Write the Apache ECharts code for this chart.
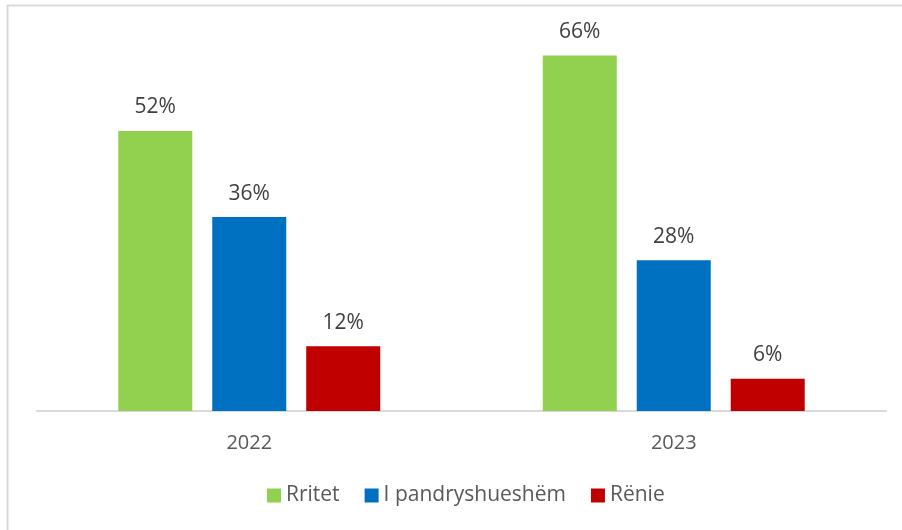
<!DOCTYPE html>
<html>
<head>
<meta charset="utf-8">
<script src="https://cdn.jsdelivr.net/npm/echarts@6/dist/echarts.min.js"></script>
<style>html,body{margin:0;padding:0;background:#fff;}#c{width:902px;height:530px;}</style>
</head>
<body>
<div id="c"></div>
<script>
var categories = ['2022', '2023'];
var seriesNames = ['Rritet', 'I pandryshueshëm', 'Rënie'];
var rritet = [52, 66];
var pandryshueshem = [36, 28];
var renie = [12, 6];
var colors = ['#92D050', '#0070C0', '#C00000'];

var chart = echarts.init(document.getElementById('c'), null, {renderer: 'canvas'});
var FONT = 'Open Sans';
function mk(name, data, color) {
  return {
    name: name, type: 'bar', data: data,
    barWidth: 74, barGap: '27%',
    itemStyle: {color: color},
    label: {show: true, position: 'top', distance: 13, formatter: '{c}%',
      color: '#404040', fontSize: 21, fontFamily: FONT},
    emphasis: {disabled: true}
  };
}
chart.setOption({
  animation: false,
  textStyle: {fontFamily: FONT},
  graphic: [
    {type: 'line', shape: {x1: 7, y1: 5.5, x2: 902, y2: 5.5}, style: {stroke: '#d9d9d9', lineWidth: 2}},
    {type: 'line', shape: {x1: 7.5, y1: 5, x2: 7.5, y2: 530}, style: {stroke: '#d9d9d9', lineWidth: 2}}
  ],
  grid: {left: 37, right: 16, top: 34, bottom: 119},
  legend: {
    data: seriesNames, bottom: 19, left: 262,
    itemWidth: 14, itemHeight: 14, itemGap: 25,
    icon: 'rect',
    textStyle: {color: '#595959', fontSize: 21, fontFamily: FONT}
  },
  xAxis: {
    type: 'category', data: categories,
    axisLine: {lineStyle: {color: '#d9d9d9', width: 2}},
    axisTick: {show: false},
    axisLabel: {color: '#595959', fontSize: 20, fontFamily: FONT, margin: 22}
  },
  yAxis: {type: 'value', min: 0, max: 70, show: false, splitLine: {show: false}},
  series: [
    mk(seriesNames[0], rritet, colors[0]),
    mk(seriesNames[1], pandryshueshem, colors[1]),
    mk(seriesNames[2], renie, colors[2])
  ]
});
</script>
</body>
</html>
